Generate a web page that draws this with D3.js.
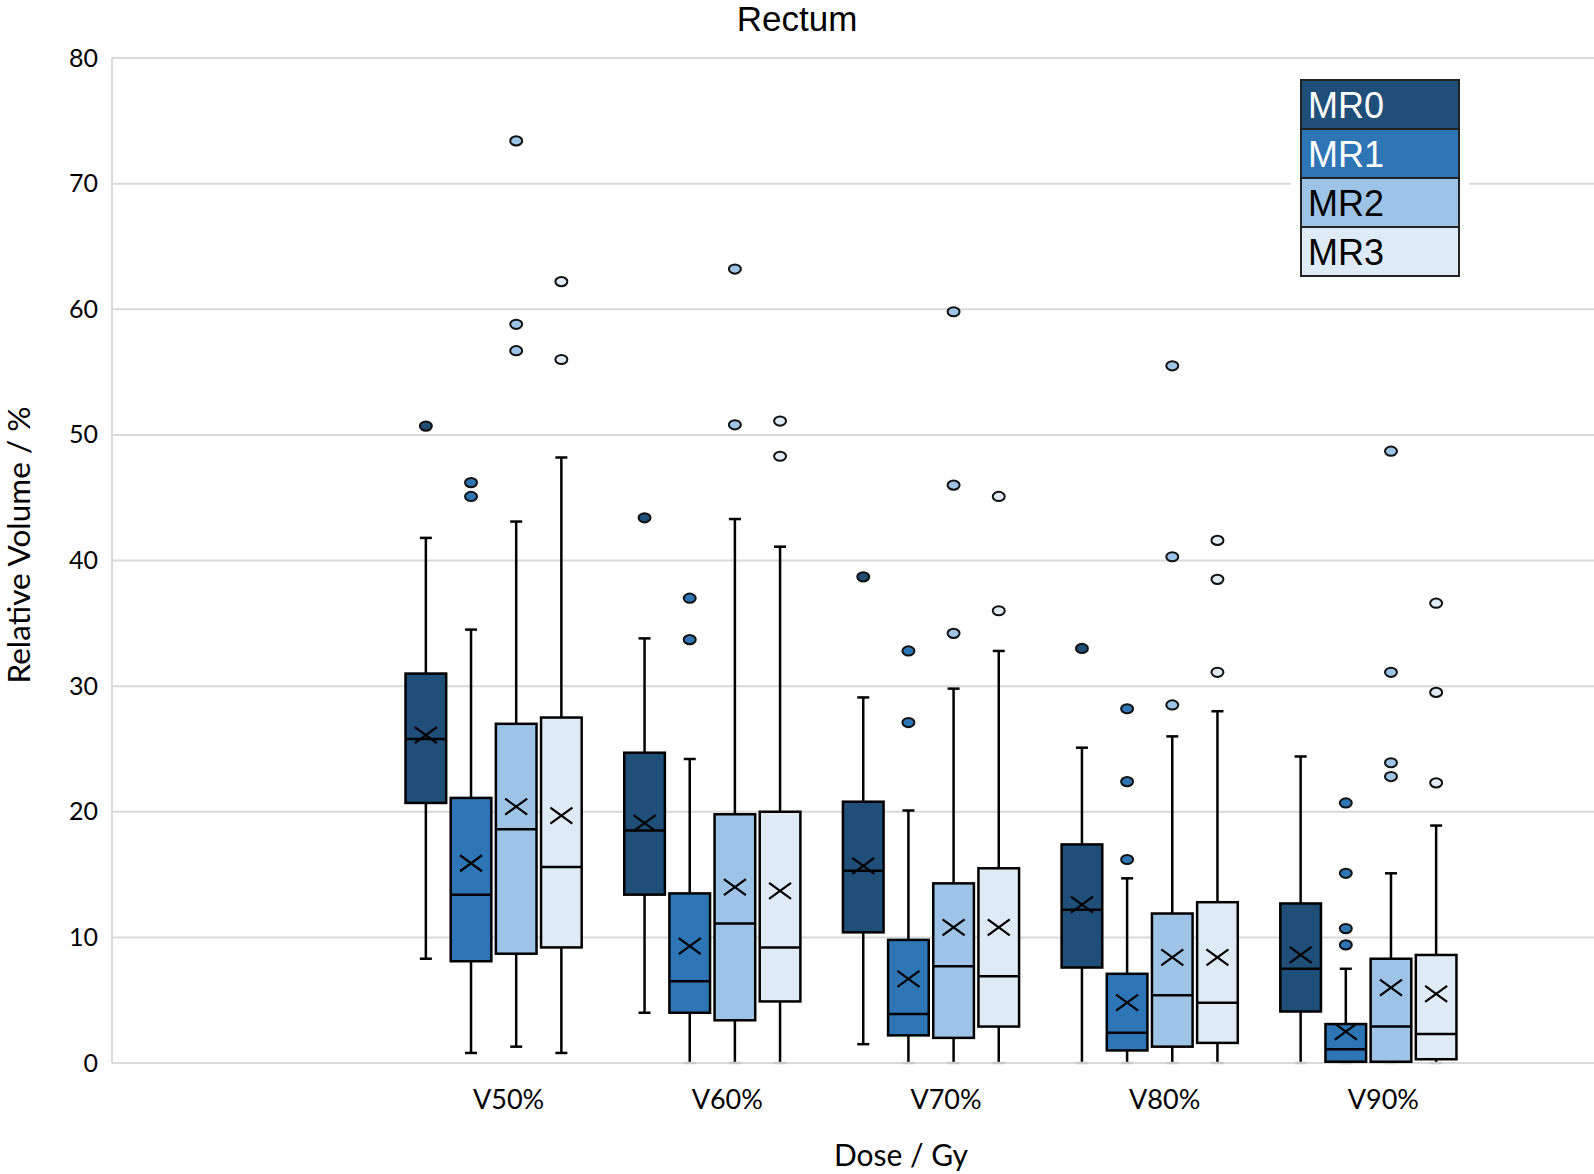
<!DOCTYPE html>
<html lang="en">
<head>
<meta charset="UTF-8">
<title>Rectum</title>
<script src="https://d3js.org/d3.v7.min.js"></script>
<style>
  body { margin: 0; background: #fff; }
</style>
</head>
<body>
<script>
// categories and series
var categories = ["V50%", "V60%", "V70%", "V80%", "V90%"];
var series = ["MR0", "MR1", "MR2", "MR3"];
var colors = ["#1f4e79", "#2e75b6", "#9dc3e6", "#deebf7"];
var yTicks = [0, 10, 20, 30, 40, 50, 60, 70, 80];

// box statistics, one row per category, one column per series
var whiskerLow = [[8.3, 0.8, 1.3, 0.8], [4.0, 0, 0, 0], [1.5, 0, 0, 0], [0, 0, 0, 0], [0, 0, 0, 0]];
var q1 = [[20.7, 8.1, 8.7, 9.2], [13.4, 4.0, 3.4, 4.9], [10.4, 2.2, 2.0, 2.9], [7.6, 1.0, 1.3, 1.6], [4.1, 0.1, 0.1, 0.3]];
var median = [[25.8, 13.4, 18.6, 15.6], [18.5, 6.5, 11.1, 9.2], [15.3, 3.9, 7.7, 6.9], [12.2, 2.4, 5.4, 4.8], [7.5, 1.1, 2.9, 2.3]];
var q3 = [[31.0, 21.1, 27.0, 27.5], [24.7, 13.5, 19.8, 20.0], [20.8, 9.8, 14.3, 15.5], [17.4, 7.1, 11.9, 12.8], [12.7, 3.1, 8.3, 8.6]];
var whiskerHigh = [[41.8, 34.5, 43.1, 48.2], [33.8, 24.2, 43.3, 41.1], [29.1, 20.1, 29.8, 32.8], [25.1, 14.7, 26.0, 28.0], [24.4, 7.5, 15.1, 18.9]];
var mean = [[26.1, 15.9, 20.4, 19.7], [19.1, 9.3, 14.0, 13.7], [15.7, 6.7, 10.8, 10.8], [12.6, 4.8, 8.4, 8.4], [8.6, 2.5, 6.0, 5.5]];
var outliers = [
    [[50.7], [46.2, 45.1], [73.4, 58.8, 56.7], [62.2, 56.0]],
    [[43.4], [37.0, 33.7], [63.2, 50.8], [51.1, 48.3]],
    [[38.7], [32.8, 27.1], [59.8, 46.0, 34.2], [45.1, 36.0]],
    [[33.0], [28.2, 22.4, 16.2], [55.5, 40.3, 28.5], [41.6, 38.5, 31.1]],
    [[], [20.7, 15.1, 10.7, 9.4], [48.7, 31.1, 23.9, 22.8], [36.6, 29.5, 22.3]]
];

var width = 1594, height = 1174;
var plotLeft = 112, plotRight = 1594;

var svg = d3.select("body").append("svg")
    .attr("width", width)
    .attr("height", height);

var y = d3.scaleLinear().domain([0, 80]).range([1063, 58]);

var x0 = d3.scaleBand().domain(categories).range([363, 1499]).padding(0.1945);
var x1 = d3.scaleBand().domain(series).range([0, x0.bandwidth()]).paddingInner(0.1);

// gridlines
svg.append("g")
    .selectAll("line")
    .data(yTicks)
    .join("line")
    .attr("x1", plotLeft).attr("x2", plotRight)
    .attr("y1", d => y(d)).attr("y2", d => y(d))
    .attr("stroke", "#d9d9d9")
    .attr("stroke-width", 2);

svg.append("line")
    .attr("x1", plotLeft).attr("x2", plotLeft)
    .attr("y1", y(80)).attr("y2", y(0))
    .attr("stroke", "#d9d9d9")
    .attr("stroke-width", 2);

// y axis labels
var yAxis = svg.append("g")
    .attr("transform", "translate(" + (plotLeft - 14) + ",0)")
    .call(d3.axisLeft(y).tickValues(yTicks).tickSize(0).tickPadding(0));
yAxis.select(".domain").remove();
yAxis.selectAll("text")
    .attr("font-family", "Lato, sans-serif")
    .attr("font-size", "25px")
    .attr("fill", "#000");

// x axis labels
var xAxis = svg.append("g")
    .attr("transform", "translate(0,1090)")
    .call(d3.axisBottom(x0).tickSize(0).tickPadding(0));
xAxis.select(".domain").remove();
xAxis.selectAll("text")
    .attr("font-family", "Lato, sans-serif")
    .attr("font-size", "27px")
    .attr("fill", "#000")
    .attr("dx", 15);

// boxes
var rows = [];
categories.forEach(function(c, i) {
    series.forEach(function(s, j) {
        rows.push({
            cat: c, ser: s, color: colors[j],
            lo: whiskerLow[i][j], q1: q1[i][j], med: median[i][j], q3: q3[i][j],
            hi: whiskerHigh[i][j], mean: mean[i][j], out: outliers[i][j]
        });
    });
});

var bw = x1.bandwidth();
var capW = 12;

var box = svg.append("g").selectAll("g")
    .data(rows)
    .join("g")
    .attr("transform", d => "translate(" + (x0(d.cat) + x1(d.ser) + bw / 2) + ",0)");

// whiskers
box.append("line")
    .attr("y1", d => y(d.hi)).attr("y2", d => y(d.q3))
    .attr("stroke", "#000").attr("stroke-width", 2.5);
box.append("line")
    .attr("y1", d => y(d.q1)).attr("y2", d => y(d.lo))
    .attr("stroke", "#000").attr("stroke-width", 2.5);
box.append("line")
    .attr("x1", -capW / 2).attr("x2", capW / 2)
    .attr("y1", d => y(d.hi)).attr("y2", d => y(d.hi))
    .attr("stroke", "#000").attr("stroke-width", 2.5);
box.append("line")
    .attr("x1", -capW / 2).attr("x2", capW / 2)
    .attr("y1", d => y(d.lo)).attr("y2", d => y(d.lo))
    .attr("stroke", d => d.lo === 0 ? "#c8c8c8" : "#000").attr("stroke-width", 2.5);

box.append("rect")
    .attr("x", -bw / 2).attr("width", bw)
    .attr("y", d => y(d.q3))
    .attr("height", d => y(d.q1) - y(d.q3))
    .attr("fill", d => d.color)
    .attr("stroke", "#000")
    .attr("stroke-width", 2.5);

box.append("line")
    .attr("x1", -bw / 2).attr("x2", bw / 2)
    .attr("y1", d => y(d.med)).attr("y2", d => y(d.med))
    .attr("stroke", "#000").attr("stroke-width", 2.5);

// mean markers
box.append("path")
    .attr("d", d => {
        var m = y(d.mean);
        return "M-11," + (m - 8) + "L11," + (m + 8) + "M-11," + (m + 8) + "L11," + (m - 8);
    })
    .attr("stroke", "#000").attr("stroke-width", 2.2).attr("fill", "none");

// outliers
box.selectAll("ellipse")
    .data(d => d.out.map(v => ({ v: v, color: d.color })))
    .join("ellipse")
    .attr("cx", 0)
    .attr("cy", d => y(d.v))
    .attr("rx", 6).attr("ry", 4.6)
    .attr("fill", d => d.color)
    .attr("stroke", "#111")
    .attr("stroke-width", 2);

// title
svg.append("text")
    .attr("x", 797).attr("y", 31)
    .attr("text-anchor", "middle")
    .attr("font-family", "Liberation Sans, Arial, sans-serif")
    .attr("font-size", "35px")
    .text("Rectum");

// axis titles
svg.append("text")
    .attr("transform", "translate(30,545) rotate(-90)")
    .attr("text-anchor", "middle")
    .attr("font-family", "Lato, sans-serif")
    .attr("font-size", "31.5px")
    .text("Relative Volume / %");

svg.append("text")
    .attr("x", 901).attr("y", 1166)
    .attr("text-anchor", "middle")
    .attr("font-family", "Lato, sans-serif")
    .attr("font-size", "30px")
    .text("Dose / Gy");

// legend
var legX = 1301, legY = 80, legW = 158, rowH = 49;
svg.append("rect")
    .attr("x", legX - 10).attr("y", legY - 10)
    .attr("width", legW + 20).attr("height", rowH * series.length + 20)
    .attr("fill", "#fff");

var leg = svg.append("g").selectAll("g")
    .data(series)
    .join("g")
    .attr("transform", (d, i) => "translate(" + legX + "," + (legY + i * rowH) + ")");

leg.append("rect")
    .attr("width", legW).attr("height", rowH)
    .attr("fill", (d, i) => colors[i])
    .attr("stroke", "#222")
    .attr("stroke-width", 2);

leg.append("text")
    .attr("x", 7).attr("y", rowH / 2 + 13)
    .attr("font-family", "Liberation Sans, Arial, sans-serif")
    .attr("font-size", "36px")
    .attr("fill", (d, i) => i < 2 ? "#fff" : "#000")
    .text(d => d);
</script>
</body>
</html>
